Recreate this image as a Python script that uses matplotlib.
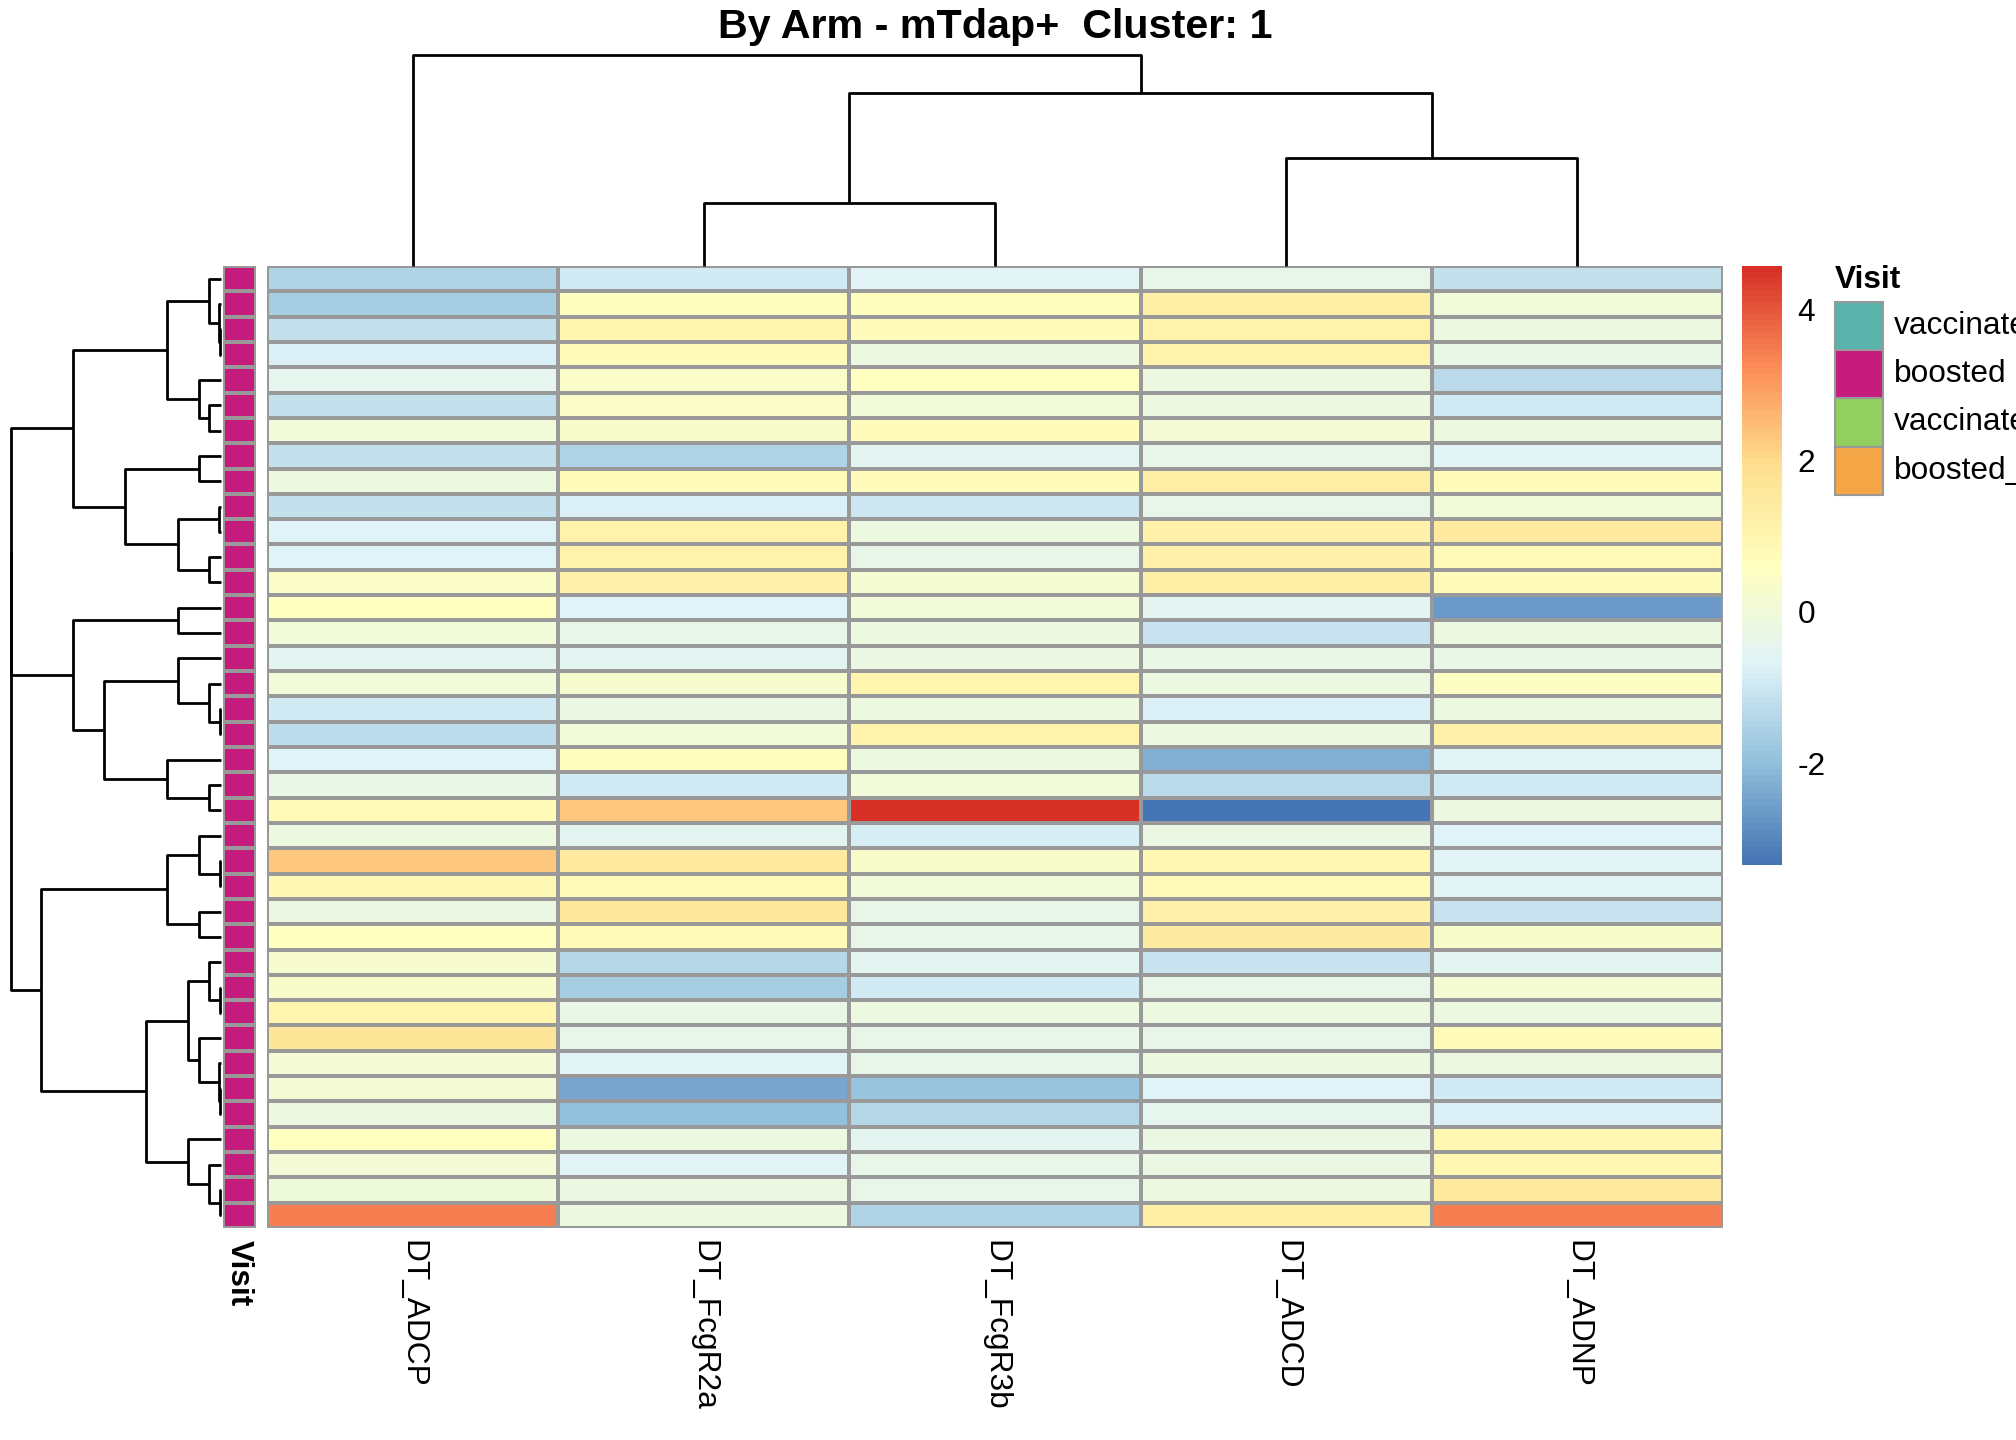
import numpy as np
import matplotlib
matplotlib.use("Agg")
import matplotlib.pyplot as plt
from matplotlib.colors import LinearSegmentedColormap, Normalize, ListedColormap
from matplotlib.patches import Rectangle
import matplotlib.colorbar as mcolorbar

plt.rcParams['font.family'] = ['Liberation Sans', 'DejaVu Sans']
plt.rcParams['axes.unicode_minus'] = False

# ---- data (rows in displayed order, top to bottom) ----
features = ['DT_ADCP', 'DT_FcgR2a', 'DT_FcgR3b', 'DT_ADCD', 'DT_ADNP']

adcp = [-1.45, -1.65, -1.15, -0.75, -0.45, -1.15, 0.0, -1.15, -0.1, -1.15,
        -0.72, -0.72, 0.4, 0.6, 0.0, -0.5, 0.05, -0.95, -1.25,
        -0.72, -0.3, 0.85, -0.1, 2.35, 0.9, -0.25, 0.55, 0.25, 0.3,
        1.05, 1.65, 0.1, 0.1, -0.1, 0.6, 0.1, -0.05, 3.45]
fcgr2a = [-0.95, 0.65, 1.05, 0.7, 0.45, 0.4, 0.3, -1.5, 0.72, -0.8,
          1.1, 1.15, 1.2, -0.72, -0.35, -0.55, 0.25, -0.2, 0.0,
          0.62, -0.9, 2.35, -0.5, 1.5, 0.8, 1.6, 0.8, -1.4, -1.65,
          -0.3, -0.35, -0.6, -2.45, -1.95, -0.1, -0.65, -0.2, -0.1]
fcgr3b = [-0.6, 0.62, 0.75, -0.1, 0.55, 0.0, 0.75, -0.55, 0.72, -1.0,
          -0.1, -0.35, 0.15, 0.0, -0.1, -0.2, 1.05, -0.1, 1.15,
          -0.1, 0.0, 4.58, -0.82, 0.35, 0.0, -0.4, -0.4, -0.5, -0.9,
          -0.1, -0.4, -0.4, -1.9, -1.38, -0.55, -0.4, -0.4, -1.5]
adcd = [-0.35, 1.3, 1.1, 1.1, -0.1, -0.1, 0.1, -0.35, 1.4, -0.4,
        1.2, 1.2, 1.3, -0.5, -1.1, -0.3, -0.1, -0.8, -0.1,
        -2.3, -1.3, -3.35, -0.25, 0.95, 0.85, 1.2, 1.45, -1.1, -0.35,
        -0.1, -0.35, -0.1, -0.72, -0.45, -0.2, -0.2, -0.1, 1.3]
adnp = [-1.15, 0.0, -0.1, -0.3, -1.35, -0.95, -0.1, -0.6, 0.75, 0.0,
        1.5, 0.78, 0.72, -2.65, -0.1, -0.3, 0.5, -0.1, 1.2,
        -0.6, -0.9, -0.1, -0.72, -0.6, -0.6, -1.1, 0.3, -0.5, 0.15,
        -0.1, 0.7, -0.1, -0.95, -0.8, 0.95, 1.0, 1.5, 3.45]

visit = ['boosted'] * 38
visit_levels = ['vaccinated', 'boosted', 'vaccinated_', 'boosted_']
visit_colors = ['#5AB4AC', '#C51B7D', '#91CF60', '#F4A646']

# row tree: (left child, right child, height); leaves 0..37, new nodes from 38
row_merges = [
    (2, 3, 3), (1, 38, 5), (0, 39, 36), (5, 6, 36), (4, 41, 66),
    (40, 42, 163), (7, 8, 66), (9, 10, 5), (11, 12, 36), (45, 46, 130),
    (44, 47, 288), (43, 48, 443), (13, 14, 128), (17, 18, 3), (16, 51, 36),
    (15, 52, 128), (20, 21, 36), (19, 54, 163), (53, 55, 350), (50, 56, 444),
    (49, 57, 629), (23, 24, 3), (22, 59, 66), (25, 26, 66), (60, 61, 163),
    (28, 29, 3), (27, 63, 36), (32, 33, 3), (31, 65, 5), (30, 66, 66),
    (64, 67, 98), (36, 37, 3), (35, 69, 36), (34, 70, 98), (68, 71, 225),
    (62, 72, 540), (58, 73, 631),
]
# column tree; leaves 0..4
col_merges = [(1, 2, 63), (3, 4, 108), (5, 6, 173), (0, 7, 211)]

mat = np.array([adcp, fcgr2a, fcgr3b, adcd, adnp]).T
nrow, ncol = mat.shape

W, H = 2016, 1440
fig = plt.figure(figsize=(W / 100, H / 100), dpi=100)


def box(x0, y0, x1, y1):
    return [x0 / W, 1 - y1 / H, (x1 - x0) / W, (y1 - y0) / H]


def tree_segments(merges, n):
    pos = [i + 0.5 for i in range(n)]
    ht = [0.0] * n
    segs = []
    for a, b, h in merges:
        segs.append(([pos[a], pos[a], pos[b], pos[b]], [ht[a], h, h, ht[b]]))
        pos.append((pos[a] + pos[b]) / 2)
        ht.append(h)
    return segs


cols7 = ['#4575B4', '#91BFDB', '#E0F3F8', '#FFFFBF', '#FEE090', '#FC8D59', '#D73027']
cmap = LinearSegmentedColormap.from_list('rdylbu_r', cols7, N=100)
norm = Normalize(vmin=mat.min(), vmax=mat.max())
grid_col = '#999999'
fs = 22.8

# heatmap
ax = fig.add_axes(box(267, 266, 1723, 1228))
ax.pcolormesh(mat, cmap=cmap, norm=norm, edgecolors=grid_col, linewidth=1.5)
ax.set_xlim(0, ncol)
ax.set_ylim(nrow, 0)
ax.set_yticks([])
ax.set_xticks(np.arange(ncol) + 0.5)
ax.set_xticklabels(features, rotation=270, ha='center', va='top', fontsize=fs)
ax.tick_params(axis='x', length=0, pad=9)
for s in ax.spines.values():
    s.set_visible(False)

# annotation column
ax_an = fig.add_axes(box(222.5, 266, 256, 1228))
codes = np.array([[visit_levels.index(v)] for v in visit])
ax_an.pcolormesh(codes, cmap=ListedColormap(visit_colors), vmin=-0.5, vmax=3.5,
                 edgecolors=grid_col, linewidth=1.5)
ax_an.set_xlim(0, 1)
ax_an.set_ylim(nrow, 0)
ax_an.set_yticks([])
ax_an.set_xticks([0.5])
ax_an.set_xticklabels(['Visit'], rotation=270, ha='center', va='top',
                      fontsize=fs, fontweight='bold')
ax_an.tick_params(axis='x', length=0, pad=9)
for s in ax_an.spines.values():
    s.set_visible(False)

# row dendrogram
ax_rd = fig.add_axes(box(10.7, 266, 221, 1228))
for p, h in tree_segments(row_merges, nrow):
    ax_rd.plot(h, p, color='black', lw=2, clip_on=False, solid_capstyle='butt')
ax_rd.set_xlim(row_merges[-1][2], 0)
ax_rd.set_ylim(nrow, 0)
ax_rd.axis('off')

# column dendrogram
ax_cd = fig.add_axes(box(267, 55, 1723, 266))
for p, h in tree_segments(col_merges, ncol):
    ax_cd.plot(p, h, color='black', lw=2, clip_on=False, solid_capstyle='butt')
ax_cd.set_xlim(0, ncol)
ax_cd.set_ylim(0, col_merges[-1][2])
ax_cd.axis('off')

# colour key
ax_cb = fig.add_axes(box(1742, 266, 1782, 865))
cb = mcolorbar.ColorbarBase(ax_cb, cmap=cmap, norm=norm, orientation='vertical')
cb.outline.set_visible(False)
cb.set_ticks([-2, 0, 2, 4])
ax_cb.tick_params(length=0, pad=11, labelsize=fs)

# legend for Visit
ax_lg = fig.add_axes([0, 0, 1, 1], facecolor='none')
ax_lg.set_xlim(0, W)
ax_lg.set_ylim(H, 0)
ax_lg.axis('off')
ax_lg.text(1835, 280, 'Visit', fontsize=fs, fontweight='bold', ha='left', va='center')
for i, (lab, c) in enumerate(zip(visit_levels, visit_colors)):
    y0 = 302 + i * 48.2
    ax_lg.add_patch(Rectangle((1835, y0), 48, 48.2, facecolor=c, edgecolor=grid_col, lw=1.5))
    ax_lg.text(1894, y0 + 24, lab, fontsize=fs, ha='left', va='center')

fig.text(995 / W, 1 - 27 / H, 'By Arm - mTdap+  Cluster: 1', fontsize=29.7,
         fontweight='bold', ha='center', va='center')

fig.savefig('out.png', dpi=100)
